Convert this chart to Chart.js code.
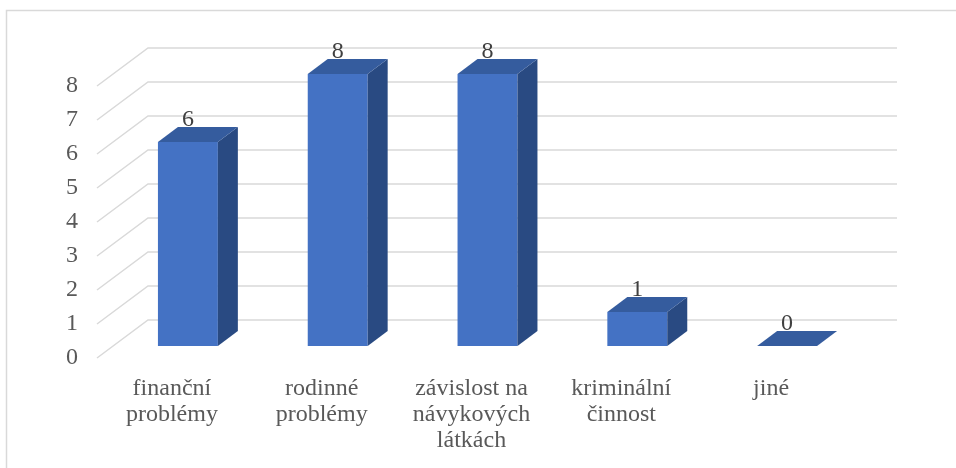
<!DOCTYPE html>
<html>
<head>
<meta charset="utf-8">
<script src="https://cdn.jsdelivr.net/npm/chart.js@4/dist/chart.umd.min.js"></script>
<style>
  html, body { margin: 0; padding: 0; background: #ffffff; }
  #wrap { width: 956px; height: 468px; position: relative; }
</style>
</head>
<body>
<div id="wrap"><canvas id="c" width="956" height="468"></canvas></div>
<script>
const categories = [
  ['finanční', 'problémy'],
  ['rodinné', 'problémy'],
  ['závislost na', 'návykových', 'látkách'],
  ['kriminální', 'činnost'],
  ['jiné']
];
const values = [6, 8, 8, 1, 0];
const yMin = 0;
const yMax = 8;
const yStep = 1;

const FONT = "'Liberation Serif', 'Times New Roman', serif";
const TEXT = '#595959';
const GRID = '#d9d9d9';
const FRONT = '#4472C4';
const TOP = '#355C9E';
const SIDE = '#294A82';
// oblique projection offsets (pixels)
const FLOOR_FRONT = { dx: -16, dy: 12 };
const FLOOR_BACK = { dx: 35, dy: -26 };
const BAR_DEPTH = { dx: 20, dy: -15 };

const frame = {
  id: 'frame',
  beforeDraw(chart) {
    const ctx = chart.ctx;
    ctx.save();
    ctx.strokeStyle = GRID;
    ctx.lineWidth = 1.5;
    ctx.beginPath();
    ctx.moveTo(6.5, 468);
    ctx.lineTo(6.5, 10.5);
    ctx.lineTo(956, 10.5);
    ctx.stroke();
    ctx.restore();
  }
};

const grid3d = {
  id: 'grid3d',
  beforeDatasetsDraw(chart) {
    const ctx = chart.ctx;
    const ys = chart.scales.y;
    const a = chart.chartArea;
    ctx.save();
    ctx.strokeStyle = GRID;
    ctx.lineWidth = 1.5;
    ys.ticks.forEach(t => {
      const y = ys.getPixelForValue(t.value);
      ctx.beginPath();
      ctx.moveTo(a.left + FLOOR_FRONT.dx, y + FLOOR_FRONT.dy);
      ctx.lineTo(a.left + FLOOR_BACK.dx, y + FLOOR_BACK.dy);
      ctx.lineTo(a.right + FLOOR_BACK.dx, y + FLOOR_BACK.dy);
      ctx.stroke();
    });
    ctx.restore();
  }
};

const bars3d = {
  id: 'bars3d',
  afterDatasetsDraw(chart) {
    const ctx = chart.ctx;
    const meta = chart.getDatasetMeta(0);
    const ds = chart.data.datasets[0];
    ctx.save();
    meta.data.forEach((bar, i) => {
      const p = bar.getProps(['x', 'y', 'base', 'width'], true);
      const l = p.x - p.width / 2, r = p.x + p.width / 2;
      const dx = BAR_DEPTH.dx, dy = BAR_DEPTH.dy;
      // side face
      ctx.fillStyle = SIDE;
      ctx.beginPath();
      ctx.moveTo(r, p.y);
      ctx.lineTo(r + dx, p.y + dy);
      ctx.lineTo(r + dx, p.base + dy);
      ctx.lineTo(r, p.base);
      ctx.closePath();
      ctx.fill();
      // top face
      ctx.fillStyle = TOP;
      ctx.beginPath();
      ctx.moveTo(l, p.y);
      ctx.lineTo(r, p.y);
      ctx.lineTo(r + dx, p.y + dy);
      ctx.lineTo(l + dx, p.y + dy);
      ctx.closePath();
      ctx.fill();
      // value label
      ctx.fillStyle = '#404040';
      ctx.font = '24px ' + FONT;
      ctx.textAlign = 'center';
      ctx.textBaseline = 'alphabetic';
      ctx.fillText(String(ds.data[i]), p.x, p.y + dy - 1);
    });
    ctx.restore();
  }
};

new Chart(document.getElementById('c'), {
  type: 'bar',
  data: {
    labels: categories,
    datasets: [{
      data: values,
      backgroundColor: FRONT,
      borderWidth: 0,
      barPercentage: 0.4,
      categoryPercentage: 1.0
    }]
  },
  options: {
    responsive: false,
    devicePixelRatio: 1,
    animation: false,
    layout: { padding: { left: 0, right: 94, top: 74, bottom: 0 } },
    plugins: { legend: { display: false }, tooltip: { enabled: false } },
    scales: {
      x: {
        grid: { display: false, drawTicks: false },
        border: { display: false },
        ticks: {
          color: TEXT,
          font: { family: FONT, size: 24, lineHeight: 1.08 },
          padding: 30,
          labelOffset: -16,
          maxRotation: 0,
          autoSkip: false
        },
        afterFit(s) { s.height = 122; }
      },
      y: {
        min: yMin,
        max: yMax,
        grid: { display: false, drawTicks: false },
        border: { display: false },
        ticks: {
          stepSize: yStep,
          color: TEXT,
          font: { family: FONT, size: 24 },
          padding: 35,
          labelOffset: 12
        },
        afterFit(s) { s.width = 113; }
      }
    }
  },
  plugins: [frame, grid3d, bars3d]
});
</script>
</body>
</html>
